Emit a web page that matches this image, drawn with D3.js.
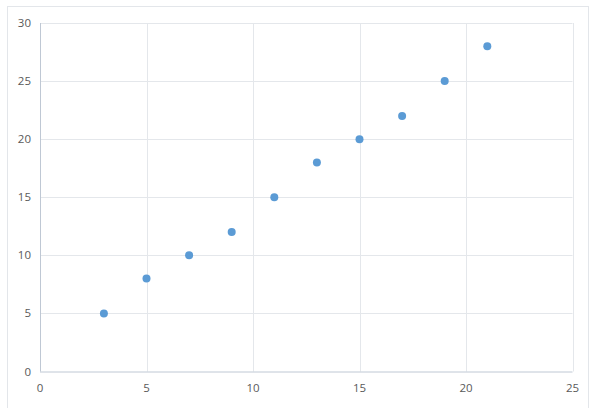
<!DOCTYPE html>
<html><head><meta charset="utf-8">
<script src="https://cdn.jsdelivr.net/npm/d3@7"></script>
<style>body{margin:0;background:#fff;}svg{display:block;}</style>
</head><body>
<script>
const xValues = [3, 5, 7, 9, 11, 13, 15, 17, 19, 21];
const yValues = [5, 8, 10, 12, 15, 18, 20, 22, 25, 28];
const xTicks = [0, 5, 10, 15, 20, 25];
const yTicks = [0, 5, 10, 15, 20, 25, 30];

const W = 600, H = 408;
const svg = d3.select("body").append("svg").attr("width", W).attr("height", H);
svg.append("rect").attr("x", 7.5).attr("y", 6.5).attr("width", 581).attr("height", 410)
  .attr("fill", "#fff").attr("stroke", "#E3E6EA");

const L = 40, R = 572.5, T = 23, B = 371.5;
const x = d3.scaleLinear().domain([0, 25]).range([L, R]);
const y = d3.scaleLinear().domain([0, 30]).range([B, T]);

const g = svg.append("g");
// gridlines
g.selectAll(".vg").data(xTicks.slice(1)).enter().append("line")
  .attr("x1", d => Math.round(x(d)) + 0.5).attr("x2", d => Math.round(x(d)) + 0.5)
  .attr("y1", T).attr("y2", B).attr("stroke", "#E4E7EB");
g.selectAll(".hg").data(yTicks.slice(1)).enter().append("line")
  .attr("y1", d => Math.round(y(d)) + 0.5).attr("y2", d => Math.round(y(d)) + 0.5)
  .attr("x1", L).attr("x2", R).attr("stroke", "#E4E7EB");
// axis lines
g.append("line").attr("x1", L + 0.5).attr("x2", L + 0.5).attr("y1", T).attr("y2", B)
  .attr("stroke", "#BFC8D4");
g.append("line").attr("x1", L).attr("x2", R).attr("y1", B + 0.5).attr("y2", B + 0.5)
  .attr("stroke", "#BFC8D4");

// tick labels
const font = "'Open Sans', 'DejaVu Sans', sans-serif";
g.selectAll(".yl").data(yTicks).enter().append("text")
  .attr("x", 31).attr("y", d => y(d) + 4).attr("text-anchor", "end")
  .attr("font-family", font).attr("font-size", 11.5).attr("fill", "#595959").text(d => d);
g.selectAll(".xl").data(xTicks).enter().append("text")
  .attr("x", d => x(d)).attr("y", 392).attr("text-anchor", "middle")
  .attr("font-family", font).attr("font-size", 11.5).attr("fill", "#595959").text(d => d);

// points
g.selectAll(".pt").data(xValues.map((v, i) => [v, yValues[i]])).enter().append("circle")
  .attr("cx", d => x(d[0])).attr("cy", d => y(d[1])).attr("r", 4)
  .attr("fill", "#5B9BD5");
</script>
</body></html>
